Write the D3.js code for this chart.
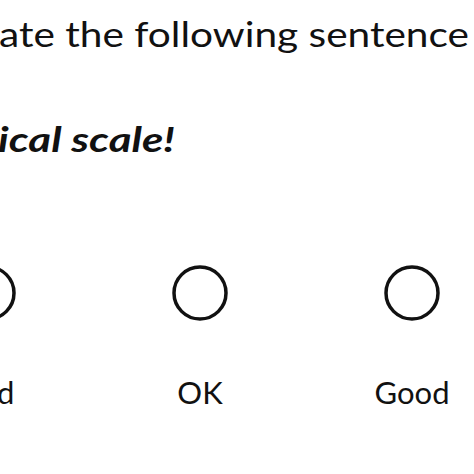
<!DOCTYPE html>
<html><head><meta charset="utf-8">
<script src="https://cdn.jsdelivr.net/npm/d3@7"></script>
<style>body{margin:0;background:#fff}</style>
</head><body>
<svg id="chart" width="474" height="474"></svg>
<script>
const headline = 'ate the following sentence';
const instruction = 'ical scale!';
const categories = ['Bad', 'OK', 'Good'];

const svg = d3.select('#chart');
const font = 'Lato, "Open Sans", sans-serif';

// the reference is a crop, so the first words run off the left edge
svg.append('text').attr('x', -1).attr('y', 47)
  .attr('font-family', font).attr('font-size', 35).attr('fill', '#111')
  .attr('textLength', 470).attr('lengthAdjust', 'spacingAndGlyphs')
  .text(headline);

svg.append('text').attr('x', -2).attr('y', 152)
  .attr('font-family', font).attr('font-size', 35)
  .attr('font-weight', 'bold').attr('font-style', 'italic').attr('fill', '#111')
  .attr('textLength', 177).attr('lengthAdjust', 'spacingAndGlyphs')
  .text(instruction);

const x = d3.scalePoint().domain(categories).range([-12, 412]);

const g = svg.selectAll('g.opt').data(categories).join('g')
  .attr('class', 'opt').attr('transform', d => `translate(${x(d)},0)`);

g.append('circle').attr('cy', 293).attr('r', 26)
  .attr('fill', 'none').attr('stroke', '#111').attr('stroke-width', 3.5);

g.append('text').attr('y', 404).attr('text-anchor', 'middle')
  .attr('font-family', font).attr('font-size', 31).attr('fill', '#111')
  .text(d => d);
</script>
</body></html>
